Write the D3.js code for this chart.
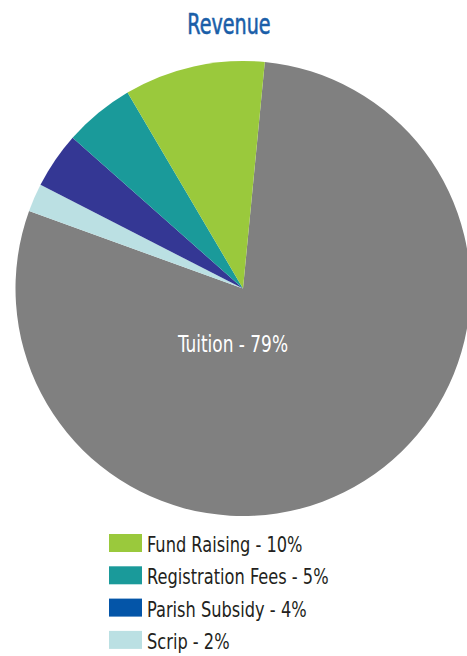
<!DOCTYPE html>
<html lang="en">
<head>
<meta charset="UTF-8">
<title>Revenue</title>
<style>
  body { margin: 0; background: #fff; }
  svg { display: block; }
  text { font-family: "DejaVu Sans", sans-serif; font-stretch: condensed; }
</style>
</head>
<body>
<script src="https://cdn.jsdelivr.net/npm/d3@7"></script>
<script>
// slice data, clockwise from the Tuition slice
var categories = ['Tuition', 'Scrip', 'Parish Subsidy', 'Registration Fees', 'Fund Raising']
var values = [79, 2, 4, 5, 10]
var sliceColors = ['#808080', '#bbe0e3', '#343794', '#1a9a9a', '#9ac93c']
// legend rows (top to bottom)
var legendNames = ['Fund Raising', 'Registration Fees', 'Parish Subsidy', 'Scrip']
var legendValues = [10, 5, 4, 2]
var legendColors = ['#9ac93c', '#1a9a9a', '#0455a8', '#bbe0e3']

var width = 467, height = 656
var cx = 243, cy = 288.5, radius = 227.5
var startAngle = 5.5 * Math.PI / 180

var svg = d3.select('body').append('svg')
    .attr('width', width).attr('height', height)

// squeeze text horizontally to get the tall narrow look of the original
var squeeze = 0.82

svg.append('text')
    .attr('transform', 'translate(229,34) scale(0.76,1)')
    .attr('text-anchor', 'middle')
    .attr('fill', '#1a5ea8')
    .attr('stroke', '#1a5ea8').attr('stroke-width', 0.6)
    .style('font-size', '28px')
    .text('Revenue')

var pie = d3.pie().sort(null).value(d => d.value)
    .startAngle(startAngle).endAngle(startAngle + 2 * Math.PI)
var arc = d3.arc().innerRadius(0).outerRadius(radius)

var rows = categories.map((c, i) => ({name: c, value: values[i], color: sliceColors[i]}))

var g = svg.append('g').attr('transform', `translate(${cx},${cy})`)
g.selectAll('path').data(pie(rows)).enter().append('path')
    .attr('d', arc)
    .attr('fill', d => d.data.color)

g.append('text')
    .attr('transform', `translate(-10,63) scale(${squeeze},1)`)
    .attr('text-anchor', 'middle')
    .attr('fill', '#fff')
    .style('font-size', '23px')
    .text(`${categories[0]}  -  ${values[0]}%`)

var legend = svg.append('g').attr('transform', 'translate(109,534)')
var item = legend.selectAll('g').data(legendNames).enter().append('g')
    .attr('transform', (d, i) => `translate(0,${i * 32.3})`)
item.append('rect')
    .attr('width', 33).attr('height', 18)
    .attr('fill', (d, i) => legendColors[i])
item.append('text')
    .attr('transform', `translate(38,18) scale(${squeeze},1)`)
    .attr('fill', '#231f20')
    .style('font-size', '22px')
    .text((d, i) => `${d}  -  ${legendValues[i]}%`)
</script>
</body>
</html>
